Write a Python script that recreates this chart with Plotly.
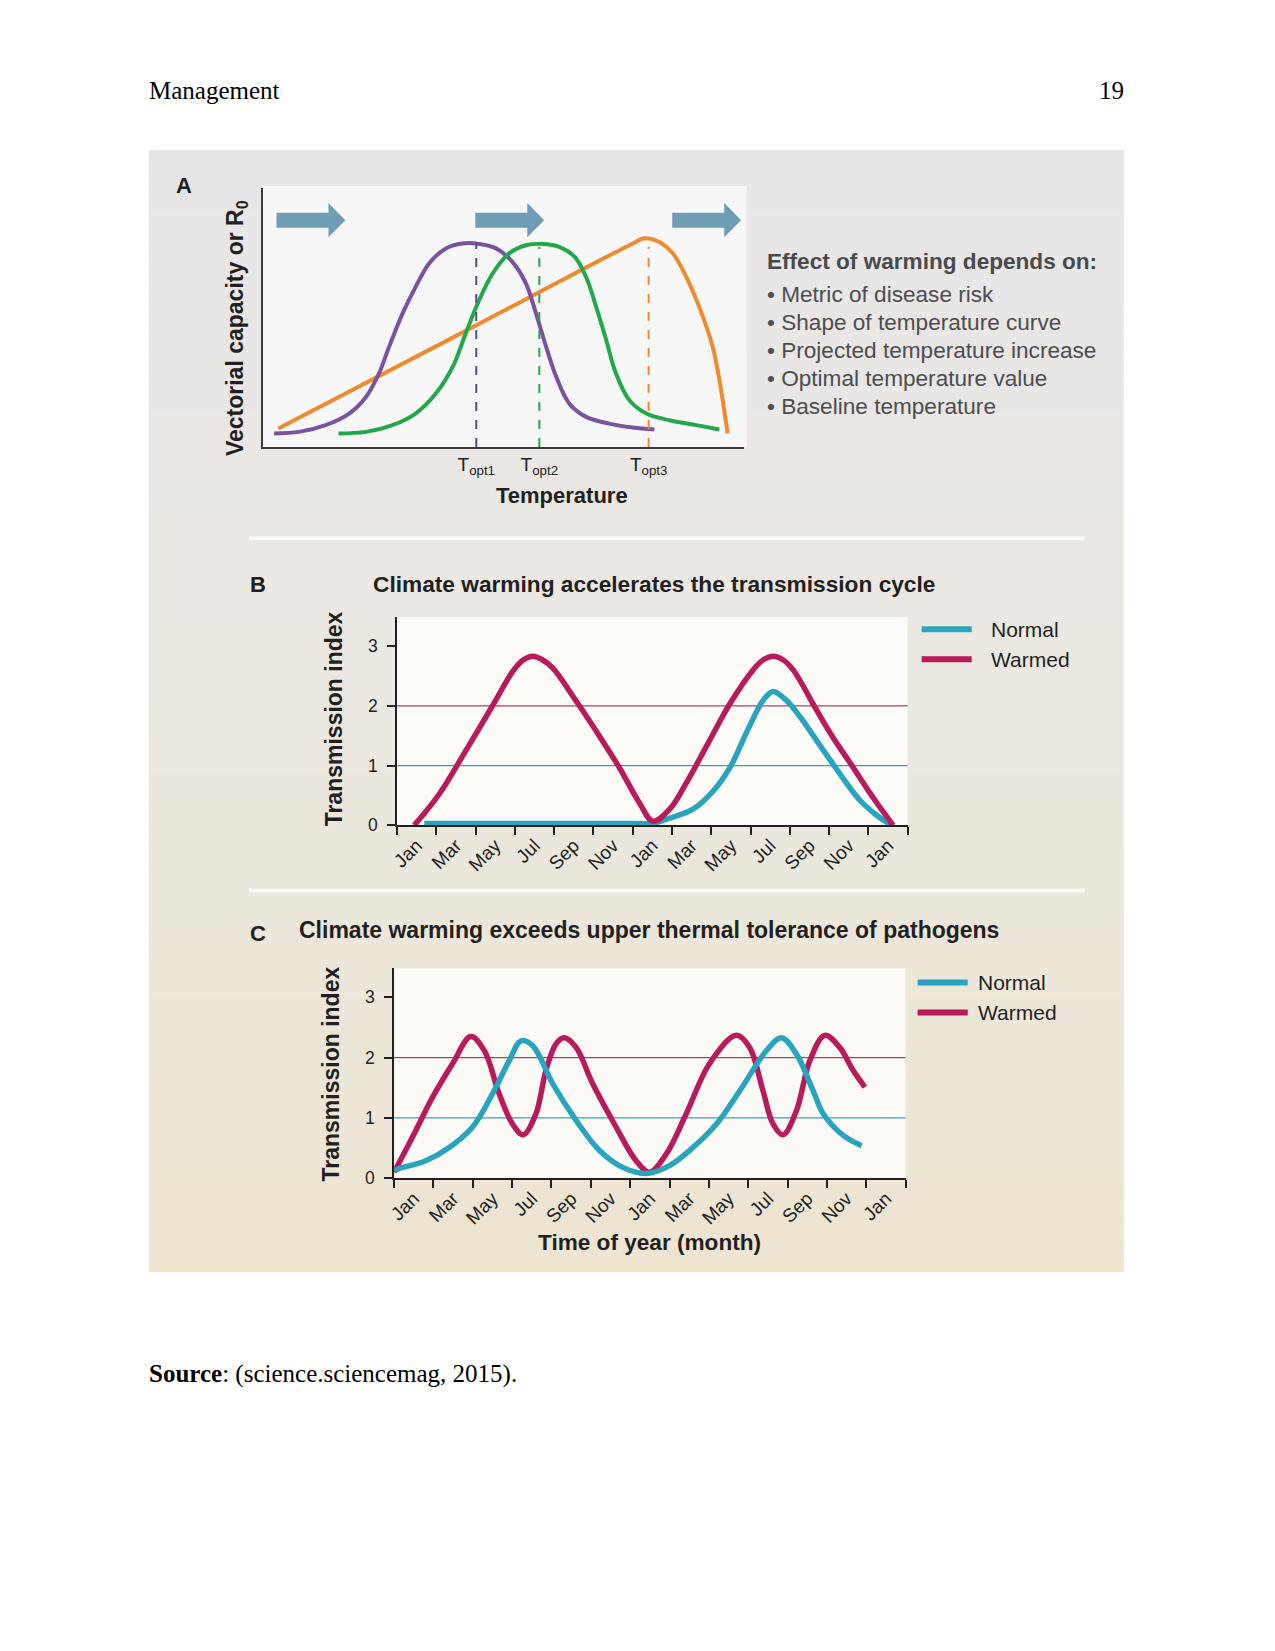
import plotly.graph_objects as go
import numpy as np

W, H = 1275, 1651

# ---------------- Panel A data (arbitrary temperature / capacity units) ----------------
temp_purple = [2.3, 7.5, 13.0, 17.9, 21.4, 24.1, 26.2, 29.0, 31.7, 34.5, 38.0, 41.4, 44.9,
               48.4, 51.8, 54.6, 56.7, 58.8, 60.9, 63.6, 67.1, 71.9, 76.8, 81.3]
vc_purple = [5.2, 5.8, 8.4, 12.9, 19.3, 28.4, 38.7, 51.6, 61.8, 70.9, 76.7, 78.6, 78.4,
             76.7, 71.5, 63.2, 51.6, 38.7, 27.1, 16.8, 11.6, 9.0, 7.5, 6.7]
temp_green = [15.7, 21.4, 26.9, 31.7, 35.9, 39.4, 42.1, 44.9, 47.7, 51.1, 54.6, 58.1, 61.5,
              64.7, 67.1, 69.2, 71.3, 73.3, 76.1, 79.6, 84.4, 90.0, 94.8]
vc_green = [5.2, 5.8, 8.4, 12.9, 20.6, 30.9, 43.8, 56.7, 67.0, 74.7, 77.9, 78.4, 77.3,
            73.5, 65.7, 54.1, 41.2, 28.4, 18.0, 12.9, 10.3, 8.4, 6.7]
temp_orange = [3.2, 40.0, 76.8, 79.2, 82.3, 85.1, 87.9, 90.6, 93.4, 94.8, 96.5]
vc_orange = [7.1, 42.8, 78.6, 80.6, 79.2, 74.8, 65.7, 54.1, 38.7, 25.8, 5.2]
topt_x = [44.3, 57.4, 80.1]
topt_top = [78.7, 77.3, 77.3]
topt_labels = ["T<sub>opt1</sub>", "T<sub>opt2</sub>", "T<sub>opt3</sub>"]
arrow_tail_x = [2.8, 44.1, 85.0]
arrow_len = 14.3
arrow_level = 87.6

effect_title = "Effect of warming depends on:"
effect_items = ["Metric of disease risk", "Shape of temperature curve",
                "Projected temperature increase", "Optimal temperature value",
                "Baseline temperature"]

# ---------------- Panels B and C data (months since first Jan) ----------------
month_labels = ["Jan", "Mar", "May", "Jul", "Sep", "Nov", "Jan", "Mar", "May", "Jul", "Sep", "Nov", "Jan"]
label_pos = [1, 3, 5, 7, 9, 11, 13, 15, 17, 19, 21, 23, 25]

warm_b_m = [0.87, 2.14, 3.5, 4.86, 5.88, 6.4, 6.9, 7.4, 7.93, 9.12, 10.31, 11.33, 12.35, 13.03, 13.88,
            14.73, 15.75, 16.94, 18.13, 18.65, 19.15, 19.65, 20.17, 21.36, 22.2, 23.06, 24.23, 25.26]
warm_b_v = [0.0, 0.52, 1.25, 2.0, 2.57, 2.76, 2.83, 2.77, 2.63, 2.08, 1.49, 0.96, 0.37, 0.07, 0.27,
            0.71, 1.32, 2.03, 2.6, 2.77, 2.83, 2.77, 2.6, 1.93, 1.47, 1.05, 0.47, 0.0]
norm_b_m = [1.38, 4.0, 7.0, 10.0, 12.2, 13.0, 13.7, 15.07, 16.09, 16.94, 17.79, 18.64, 19.15,
            19.83, 20.51, 21.53, 22.21, 23.57, 24.42, 25.1]
norm_b_v = [0.03, 0.03, 0.03, 0.03, 0.03, 0.03, 0.1, 0.27, 0.57, 0.96, 1.55, 2.09, 2.24,
            2.09, 1.82, 1.34, 1.02, 0.42, 0.17, 0.02]

warm_c_m = [0.0, 0.93, 1.95, 2.97, 3.9, 4.58, 5.34, 6.02, 6.56, 7.21, 7.72, 8.23, 8.65, 9.25,
            10.09, 11.28, 12.3, 12.98, 13.83, 14.85, 16.03, 17.39, 18.07, 18.75, 19.26, 19.77,
            20.45, 21.13, 21.89, 22.65, 23.33, 23.93]
warm_c_v = [0.1, 0.68, 1.34, 1.9, 2.35, 2.12, 1.4, 0.9, 0.72, 1.07, 1.79, 2.23, 2.33, 2.17,
            1.57, 0.85, 0.29, 0.1, 0.4, 1.07, 1.9, 2.37, 2.17, 1.45, 0.9, 0.72,
            1.12, 1.95, 2.37, 2.17, 1.79, 1.51]
norm_c_m = [0.0, 0.25, 1.61, 2.8, 3.99, 5.0, 5.85, 6.45, 7.04, 8.06, 9.25, 10.44, 11.62, 12.82,
            14.0, 15.19, 16.38, 17.57, 18.93, 19.69, 20.45, 21.3, 21.81, 22.83, 23.76]
norm_c_v = [0.13, 0.16, 0.29, 0.51, 0.85, 1.4, 1.95, 2.28, 2.2, 1.57, 0.96, 0.46, 0.18, 0.08,
            0.21, 0.51, 0.9, 1.45, 2.12, 2.33, 2.06, 1.45, 1.07, 0.71, 0.54]
thresholds = [1, 2]

# ---------------- styles ----------------
PURPLE, GREEN, ORANGE = "#7b51a1", "#22a84b", "#ef8a2e"
TEAL, CRIMSON = "#29a4bf", "#b81a5a"
ARROW = "#6f9db6"
INK = "#231f20"
SANS = "Liberation Sans, Arial, sans-serif"
SERIF = "Liberation Serif, Times New Roman, serif"

S = 0.9935  # compensation for the slight shrink observed in the rendered page


def px(X):
    return (W - (W - X) / S) / W


def py(Y):
    return 1 - (Y / S) / H


fig = go.Figure()

# Panel A curves
for tx, ty, col in [(temp_orange, vc_orange, ORANGE), (temp_purple, vc_purple, PURPLE),
                    (temp_green, vc_green, GREEN)]:
    fig.add_trace(go.Scatter(x=tx, y=ty, mode="lines", xaxis="x", yaxis="y",
                             line=dict(color=col, width=4, shape="spline", smoothing=1.0),
                             showlegend=False, hoverinfo="skip"))
for xv, top, col in zip(topt_x, topt_top, ["#5a4a80", GREEN, ORANGE]):
    fig.add_trace(go.Scatter(x=[xv, xv], y=[0, top], mode="lines", xaxis="x", yaxis="y",
                             line=dict(color=col, width=2, dash="dash"),
                             showlegend=False, hoverinfo="skip"))

# Panel B
fig.add_trace(go.Scatter(x=norm_b_m, y=norm_b_v, mode="lines", xaxis="x2", yaxis="y2",
                         line=dict(color=TEAL, width=5.5, shape="spline", smoothing=1.0),
                         showlegend=False, hoverinfo="skip"))
fig.add_trace(go.Scatter(x=warm_b_m, y=warm_b_v, mode="lines", xaxis="x2", yaxis="y2",
                         line=dict(color=CRIMSON, width=5.5, shape="spline", smoothing=1.0),
                         showlegend=False, hoverinfo="skip"))
# Panel C
fig.add_trace(go.Scatter(x=warm_c_m, y=warm_c_v, mode="lines", xaxis="x3", yaxis="y3",
                         line=dict(color=CRIMSON, width=5.5, shape="spline", smoothing=1.0),
                         showlegend=False, hoverinfo="skip"))
fig.add_trace(go.Scatter(x=norm_c_m, y=norm_c_v, mode="lines", xaxis="x3", yaxis="y3",
                         line=dict(color=TEAL, width=5.5, shape="spline", smoothing=1.0),
                         showlegend=False, hoverinfo="skip"))

shapes = []
# background gradient of the figure panel
stops = [(150, (231, 229, 232)), (560, (235, 232, 228)), (900, (236, 231, 219)), (1271, (237, 229, 208))]
ys = [s[0] for s in stops]
n_b = 90
edges = np.linspace(150, 1271, n_b + 1)
for i in range(n_b):
    mid = (edges[i] + edges[i + 1]) / 2
    c = [int(round(np.interp(mid, ys, [s[1][k] for s in stops]))) for k in range(3)]
    shapes.append(dict(type="rect", xref="paper", yref="paper", x0=px(150), x1=px(1124),
                       y0=py(edges[i + 1] + 0.6), y1=py(edges[i]), fillcolor=f"rgb({c[0]},{c[1]},{c[2]})",
                       line=dict(width=0), layer="below"))
# plot area fills
for (x0, y0, x1, y1, col) in [(262, 186, 747, 447, "#f8f7f8"), (398, 617, 908, 825, "#fcfbf8"),
                              (395, 968, 906, 1178, "#fcfaf6")]:
    shapes.append(dict(type="rect", xref="paper", yref="paper", x0=px(x0), x1=px(x1),
                       y0=py(y1), y1=py(y0), fillcolor=col, line=dict(width=0), layer="below"))
# white separators
for Y in [538, 890]:
    shapes.append(dict(type="line", xref="paper", yref="paper", x0=px(250), x1=px(1085),
                       y0=py(Y), y1=py(Y), line=dict(color="#fbfbfb", width=3.5), layer="below"))
# arrows in panel A (data coordinates)
bh, hh, hl = 2.9, 6.6, 3.5
for ax0 in arrow_tail_x:
    ax1 = ax0 + arrow_len
    yc = arrow_level
    path = (f"M {ax0},{yc - bh} L {ax1 - hl},{yc - bh} L {ax1 - hl},{yc - hh} L {ax1},{yc} "
            f"L {ax1 - hl},{yc + hh} L {ax1 - hl},{yc + bh} L {ax0},{yc + bh} Z")
    shapes.append(dict(type="path", xref="x", yref="y", path=path, fillcolor=ARROW,
                       line=dict(width=0)))
# threshold lines in B and C
for xa, ya in [("x2", "y2"), ("x3", "y3")]:
    for t, col in zip(thresholds, ["#3a9fb6", "#a54460"]):
        shapes.append(dict(type="line", xref=f"{xa} domain", yref=ya, x0=0, x1=1, y0=t, y1=t,
                           line=dict(color=col, width=1.3), layer="below"))
# legend swatches
for (x0, x1, Y, col) in [(922, 972, 629, TEAL), (922, 972, 659, CRIMSON),
                         (918, 968, 982, TEAL), (918, 968, 1012, CRIMSON)]:
    shapes.append(dict(type="line", xref="paper", yref="paper", x0=px(x0), x1=px(x1),
                       y0=py(Y), y1=py(Y), line=dict(color=col, width=6)))

annotations = []


def ann(X, Y, text, size, color=INK, xanchor="center", yanchor="middle", angle=0, family=SANS):
    annotations.append(dict(x=px(X), y=py(Y), xref="paper", yref="paper", text=text, showarrow=False,
                            xanchor=xanchor, yanchor=yanchor, textangle=angle, borderpad=0,
                            font=dict(family=family, size=size, color=color)))


ann(149, 90, "Management", 25, color="#000000", xanchor="left", family=SERIF)
ann(1125, 90, "19", 25, color="#000000", xanchor="right", family=SERIF)
ann(149, 1373, "<b>Source</b>: (science.sciencemag, 2015).", 25, color="#000000", xanchor="left", family=SERIF)

ann(185, 185, "<b>A</b>", 22)
ann(237, 328, "<b>Vectorial capacity or R<sub>0</sub></b>", 23, angle=-90)
ann(563, 495, "<b>Temperature</b>", 22)
ann(767, 261, f"<b>{effect_title}</b>", 22.6, color="#4a4a4c", xanchor="left")
for i, item in enumerate(effect_items):
    ann(767, 294 + 28.2 * i, "\u2022 " + item, 22.6, color="#4d4d4f", xanchor="left")

ann(259, 584, "<b>B</b>", 22)
ann(655, 584, "<b>Climate warming accelerates the transmission cycle</b>", 22.7)
ann(335, 719, "<b>Transmission index</b>", 23, angle=-90)
ann(990, 629, "Normal", 21, xanchor="left")
ann(990, 659, "Warmed", 21, xanchor="left")

ann(259, 933, "<b>C</b>", 22)
ann(650, 930, "<b>Climate warming exceeds upper thermal tolerance of pathogens</b>", 23)
ann(332, 1074, "<b>Transmission index</b>", 23, angle=-90)
ann(977, 982, "Normal", 21, xanchor="left")
ann(977, 1012, "Warmed", 21, xanchor="left")
ann(650, 1242, "<b>Time of year (month)</b>", 22.6)


def month_xaxis(domain, anchor):
    return dict(domain=domain, anchor=anchor, range=[0, 26], showgrid=False, zeroline=False,
                showline=True, linecolor=INK, linewidth=1.5,
                tickmode="array", tickvals=label_pos, ticktext=month_labels, tickangle=-45,
                ticks="", ticklabelstandoff=0,
                tickfont=dict(family=SANS, size=19, color=INK),
                minor=dict(tickmode="linear", tick0=0, dtick=2, ticks="outside", ticklen=8,
                           tickcolor=INK, tickwidth=1.5, showgrid=False))


def index_yaxis(domain, anchor):
    return dict(domain=domain, anchor=anchor, range=[0, 3.48], showgrid=False, zeroline=False,
                showline=True, linecolor=INK, linewidth=1.5, tickmode="array",
                tickvals=[0, 1, 2, 3], ticks="outside", ticklen=8, tickcolor=INK, tickwidth=1.5,
                ticklabelstandoff=6, tickfont=dict(family=SANS, size=17.5, color=INK))


fig.update_layout(
    width=W, height=H, margin=dict(l=0, r=0, t=0, b=0),
    paper_bgcolor="#ffffff", plot_bgcolor="rgba(0,0,0,0)",
    xaxis=dict(domain=[px(264), px(745)], anchor="y", range=[0, 100], showgrid=False, zeroline=False,
               showline=True, linecolor="#3a3a3a", linewidth=1.5,
               tickmode="array", tickvals=topt_x, ticktext=topt_labels,
               ticks="", tickfont=dict(family=SANS, size=19, color=INK)),
    yaxis=dict(domain=[py(446.7), py(188)], anchor="x", range=[0, 100], showgrid=False, zeroline=False,
               showline=True, linecolor="#3a3a3a", linewidth=1.5, showticklabels=False, ticks=""),
    xaxis2=month_xaxis([px(398), px(908)], "y2"),
    yaxis2=index_yaxis([py(825), py(617)], "x2"),
    xaxis3=month_xaxis([px(395), px(906)], "y3"),
    yaxis3=index_yaxis([py(1177.7), py(968)], "x3"),
    shapes=shapes, annotations=annotations, showlegend=False,
)

post = ("var gd=document.getElementById('{plot_id}');"
        "gd.style.position='fixed';gd.style.left='0px';gd.style.top='0px';"
        "document.body.style.margin='0';document.body.style.overflow='hidden';"
        "document.documentElement.style.overflow='hidden';")
fig.write_html("out.html", config={"displayModeBar": False}, post_script=post)
